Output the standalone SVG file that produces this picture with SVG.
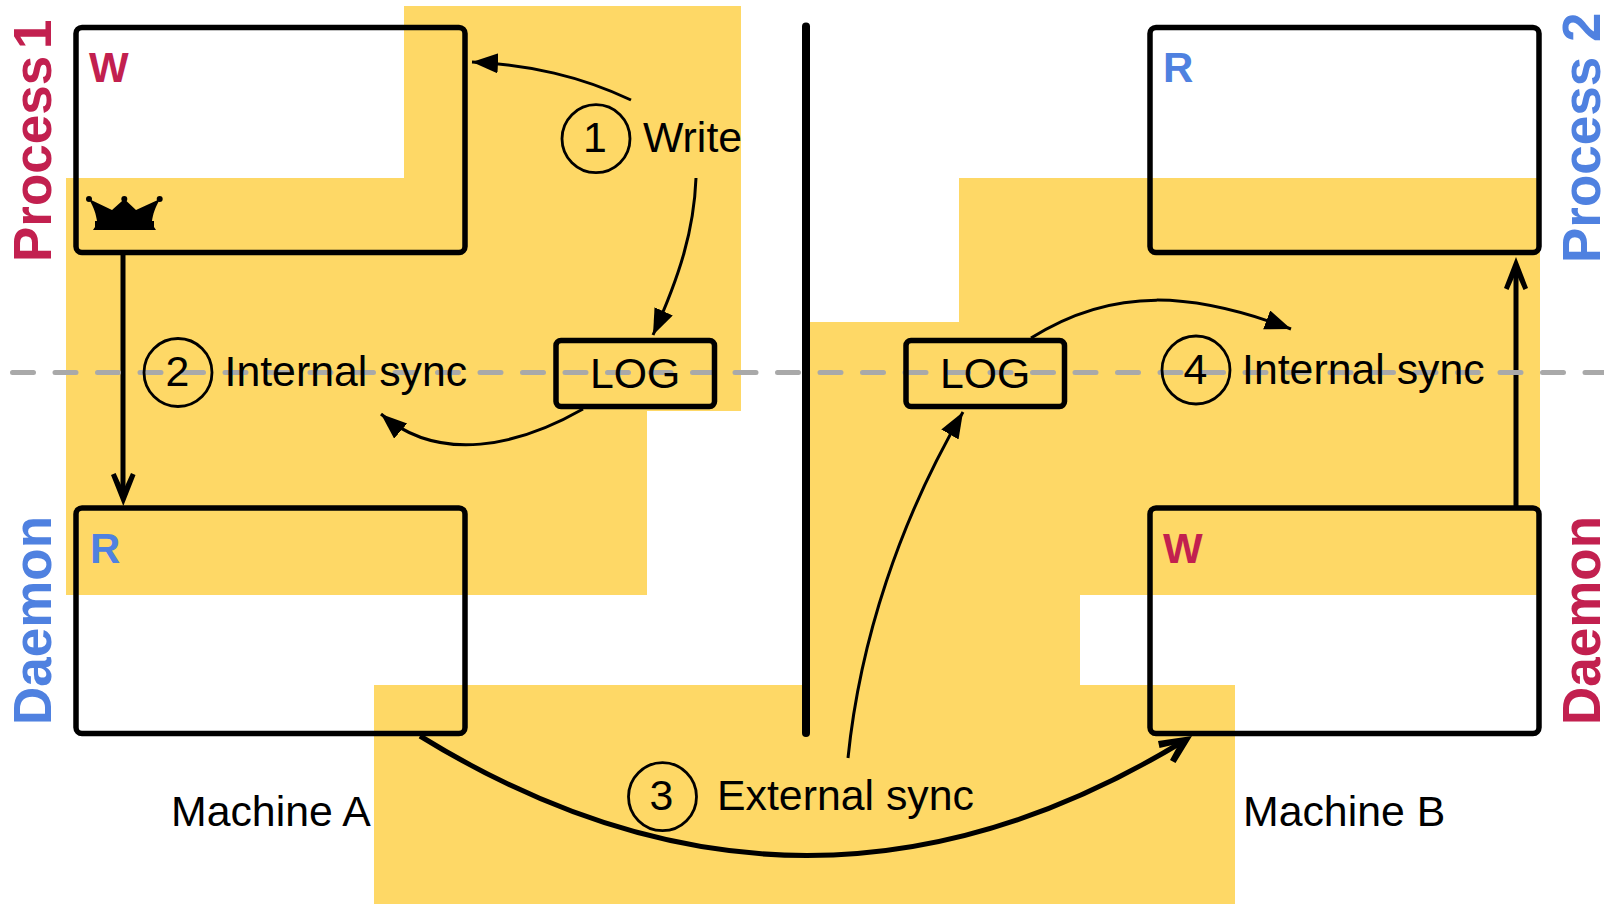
<svg xmlns="http://www.w3.org/2000/svg" width="1604" height="904" viewBox="0 0 1604 904">
<style>
.t{font-family:"Liberation Sans",Arial,sans-serif;font-size:42.800px;fill:#000}
.b{font-family:"Liberation Sans",Arial,sans-serif;font-weight:bold}
.big{font-size:53px}
.let{font-size:42px}
.red{fill:#c2204f}
.blue{fill:#4f81e0}
.box{fill:none;stroke:#000;stroke-width:5.500}
.circ{fill:none;stroke:#000;stroke-width:2.800}
.thin{fill:none;stroke:#000;stroke-width:3}
.thick{fill:none;stroke:#000;stroke-width:5}
</style>
<defs>
<marker id="tri" markerUnits="userSpaceOnUse" markerWidth="30" markerHeight="24" refX="26" refY="10" orient="auto"><path d="M0 0L26 10L0 20Z" fill="#000"/></marker>
</defs>
<g id="background">
<path d="M404 6H741V411H647V595H66V178H404Z" fill="#fed866"/>
<path d="M959 178H1540V595H1080V685H1235V904H374V685H810V322H959Z" fill="#fed866"/>
</g>
<g id="labels">
<text class="b big red" transform="translate(50.500 262) rotate(-90)">Process <tspan dx="-8">1</tspan></text>
<text class="b big blue" transform="translate(50.500 725) rotate(-90)">Daemon</text>
<text class="b big blue" transform="translate(1599.500 263) rotate(-90)">Process 2</text>
<text class="b big red" transform="translate(1599.500 725) rotate(-90)">Daemon</text>
<text class="t" x="171" y="826">Machine A</text>
<text class="t" x="1243" y="826">Machine B</text>
</g>
<g id="connectors">
<path class="thin" marker-end="url(#tri)" d="M631 100C580 76 530 65 472 62"/>
<path class="thin" marker-end="url(#tri)" d="M696 178C694 230 680 275 653 335"/>
<path class="thin" marker-end="url(#tri)" d="M583 409C520 445 440 465 381 414"/>
<path class="thin" marker-end="url(#tri)" d="M1031 338C1115 285 1195 293 1291 329"/>
<path class="thin" marker-end="url(#tri)" d="M848 758C860 640 900 520 963 412"/>
<path class="thick" d="M123 255V495"/><path d="M123.300 506L135.500 475L131 473L123.300 490L115.600 473L111 475Z"/>
<path class="thick" d="M1516 508V268"/><path d="M1516 257L1528 288L1523.500 290L1516 273L1508.500 290L1504 288Z"/>
<path class="thick" d="M420 736Q803 972 1182 742"/><path d="M1192 736L1158 741L1159.500 748L1179 743.500L1170 760L1175.500 763Z"/>
<path d="M806 26.500V733" fill="none" stroke="#000" stroke-width="8" stroke-linecap="round"/>
</g>
<path id="divider" d="M12.500 372.500H1604" fill="none" stroke="#a9a9a9" stroke-width="5" stroke-linecap="round" stroke-dasharray="21 21.500"/>
<g id="process1"><rect class="box" x="76" y="27.500" width="389" height="225" rx="6"/>
<text class="b let red" x="89" y="82">W</text>
<g id="crown"><path d="M89 199L112 210L124.300 199L136 210L160 199C155 208 153 214 152 221H154V227L156 230H93L95 227V221H97C96 214 94 208 89 199Z"/><circle cx="89" cy="199" r="3"/><circle cx="124.300" cy="199" r="3"/><circle cx="159.700" cy="199" r="3"/></g>
</g>
<g id="process2"><rect class="box" x="1150" y="27.500" width="389" height="225" rx="6"/>
<text class="b let blue" x="1163" y="82">R</text></g>
<g id="daemonA"><rect class="box" x="76" y="508" width="389" height="225.500" rx="6"/>
<text class="b let blue" x="90" y="562.500">R</text></g>
<g id="daemonB"><rect class="box" x="1150" y="508" width="389" height="225.500" rx="6"/>
<text class="b let red" x="1163" y="562.500">W</text></g>
<g id="logA"><rect class="box" x="556" y="340.500" width="158.500" height="66" rx="5"/>
<text class="t" x="590" y="388">LOG</text></g>
<g id="logB"><rect class="box" x="906" y="340.500" width="158.500" height="66" rx="5"/>
<text class="t" x="940" y="388">LOG</text></g>
<g id="step1"><circle class="circ" cx="596" cy="138.700" r="34"/><text class="t" x="595" y="152" text-anchor="middle">1</text><text class="t" x="643" y="152">Write</text></g>
<g id="step2"><circle class="circ" cx="178" cy="372.500" r="34"/><text class="t" x="177.500" y="386" text-anchor="middle">2</text><text class="t" x="224.500" y="386">Internal sync</text></g>
<g id="step3"><circle class="circ" cx="662.500" cy="796.700" r="34"/><text class="t" x="661.500" y="810" text-anchor="middle">3</text><text class="t" x="717" y="810">External sync</text></g>
<g id="step4"><circle class="circ" cx="1196" cy="370" r="34"/><text class="t" x="1195.500" y="384" text-anchor="middle">4</text><text class="t" x="1242" y="384">Internal sync</text></g>
</svg>
